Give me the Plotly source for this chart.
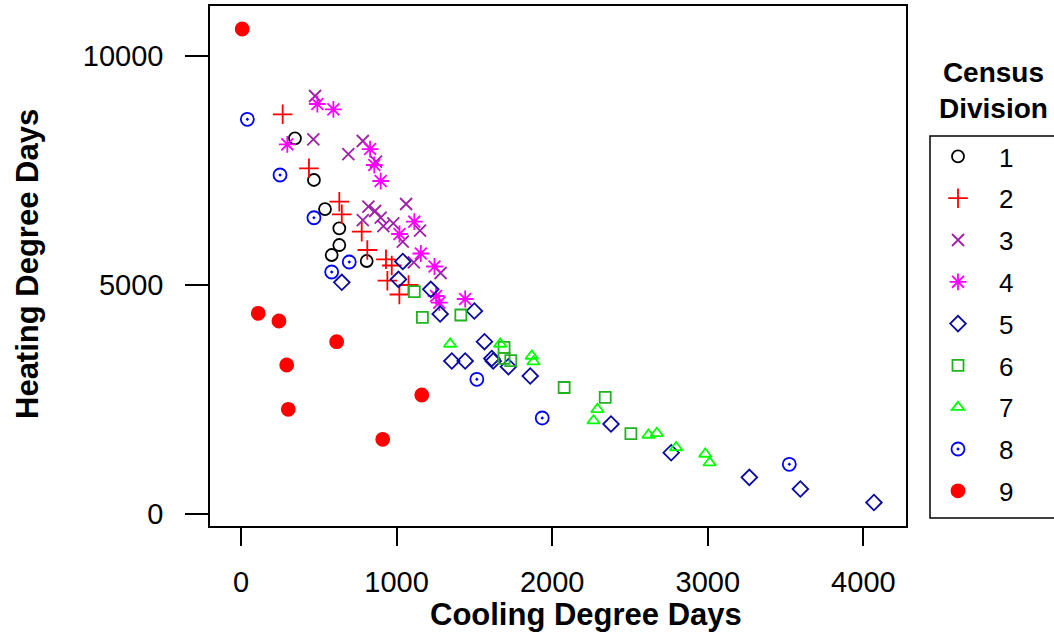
import plotly.graph_objects as go

# ---- data (Cooling Degree Days, Heating Degree Days) by Census Division ----
div1_cdd = [347, 469, 540, 632, 632, 583, 808]
div1_hdd = [8203, 7293, 6659, 6238, 5873, 5655, 5524]

div2_cdd = [268, 437, 632, 648, 776, 812, 932, 969, 941, 1018, 1077]
div2_hdd = [8727, 7548, 6819, 6544, 6164, 5764, 5561, 5426, 5094, 4793, 5000]

div3_cdd = [476, 465, 783, 690, 868, 819, 1061, 862, 783, 898, 915, 979, 1151, 1040, 1111, 1283]
div3_hdd = [9127, 8181, 8144, 7860, 7692, 6710, 6769, 6616, 6419, 6469, 6288, 6347, 6186, 5945, 5496, 5262]

div4_cdd = [491, 594, 298, 830, 857, 898, 1114, 1019, 1156, 1244, 1254, 1275, 1441]
div4_hdd = [8952, 8836, 8072, 7969, 7620, 7271, 6382, 6114, 5688, 5404, 4760, 4614, 4694]

div5_cdd = [648, 1040, 1012, 1220, 1280, 1500, 1565, 1355, 1441, 1612, 1621, 1719, 1859, 2378, 2765, 3267, 3595, 4068]
div5_hdd = [5059, 5513, 5124, 4906, 4367, 4432, 3762, 3341, 3341, 3395, 3341, 3216, 3013, 1965, 1338, 801, 546, 251]

div6_cdd = [1114, 1166, 1413, 1691, 1691, 1734, 2077, 2341, 2506]
div6_hdd = [4854, 4295, 4345, 3640, 3400, 3347, 2762, 2548, 1753]

div7_cdd = [1344, 1666, 1869, 1880, 2291, 2266, 2619, 2673, 2797, 2984, 3012]
div7_hdd = [3712, 3712, 3450, 3325, 2286, 2037, 1725, 1762, 1452, 1310, 1120]

div8_cdd = [41, 251, 469, 696, 583, 1516, 1936, 3524]
div8_hdd = [8618, 7402, 6469, 5502, 5284, 2941, 2096, 1085]

div9_cdd = [8, 111, 244, 294, 304, 615, 1162, 911]
div9_hdd = [10590, 4382, 4214, 3253, 2286, 3762, 2598, 1631]

division_names = ["1", "2", "3", "4", "5", "6", "7", "8", "9"]
x_ticks = [0, 1000, 2000, 3000, 4000]
y_ticks = [0, 5000, 10000]

series_x = [div1_cdd, div2_cdd, div3_cdd, div4_cdd, div5_cdd, div6_cdd, div7_cdd, div8_cdd, div9_cdd]
series_y = [div1_hdd, div2_hdd, div3_hdd, div4_hdd, div5_hdd, div6_hdd, div7_hdd, div8_hdd, div9_hdd]

# ---- styles ----
colors = ["#000000", "#ff0000", "#a020a8", "#ff00ff", "#0a0aa0", "#22b222", "#00ff00", "#0000ff", "#ff0000"]
symbols = ["circle-open", "cross-thin-open", "x-thin-open", "asterisk-open", "diamond-open",
           "square-open", "triangle-up-open", "circle-open-dot", "circle"]
sizes = [12, 14, 12, 14, 12, 11, 11, 13, 13]

FONT = "Liberation Sans, Arial, sans-serif"

fig = go.Figure()
for name, xs, ys, c, s, sz in zip(division_names, series_x, series_y, colors, symbols, sizes):
    fig.add_trace(go.Scatter(
        x=xs, y=ys, mode="markers", name=name, legendgroup=name,
        marker=dict(symbol=s, size=sz, color=c, line=dict(color=c, width=1.8)),
    ))

W, H = 1054, 635
L, R, T, B = 210, 148, 6, 109
pw, ph = W - L - R, H - T - B

def px_to_paper(px, py):
    return (px - L) / pw, (H - B - py) / ph

axis_common = dict(
    showgrid=False, zeroline=False, showline=True, mirror=True,
    linecolor="#000000", linewidth=1.5, ticks="outside", tickwidth=1.5,
    tickcolor="#000000", tickfont=dict(family=FONT, size=29, color="#000000"),
)

fig.update_xaxes(range=[-199, 4274], tickvals=x_ticks, ticktext=[str(v) for v in x_ticks],
                 ticklen=18, ticklabelstandoff=11, **axis_common)
fig.update_yaxes(range=[-262, 11092], tickvals=y_ticks, ticktext=[str(v) for v in y_ticks],
                 ticklen=23, ticklabelstandoff=16, **axis_common)

# axis titles
xt = px_to_paper(586, 614)
yt = px_to_paper(27, 264)
lt = px_to_paper(993, 91)
fig.add_annotation(text="Cooling Degree Days", xref="paper", yref="paper", x=xt[0], y=xt[1],
                   showarrow=False, xanchor="center", yanchor="middle",
                   font=dict(family=FONT, size=31, color="#000000", weight="bold"))
fig.add_annotation(text="Heating Degree Days", xref="paper", yref="paper", x=yt[0], y=yt[1],
                   showarrow=False, xanchor="center", yanchor="middle", textangle=-90,
                   font=dict(family=FONT, size=31, color="#000000", weight="bold"))
fig.add_annotation(text="Census<br>Division", xref="paper", yref="paper", x=lt[0], y=lt[1],
                   showarrow=False, xanchor="center", yanchor="middle", align="center",
                   font=dict(family=FONT, size=28, color="#000000", weight="bold"))

# legend box
b0 = px_to_paper(930, 518)
b1 = px_to_paper(1070, 136)
fig.add_shape(type="rect", xref="paper", yref="paper", x0=b0[0], y0=b0[1], x1=b1[0], y1=b1[1],
              line=dict(color="#000000", width=1.5), fillcolor="rgba(0,0,0,0)")

lg = px_to_paper(917, 133)
fig.update_layout(
    width=W, height=H,
    margin=dict(l=L, r=R, t=T, b=B, autoexpand=False),
    paper_bgcolor="#ffffff", plot_bgcolor="#ffffff",
    showlegend=True,
    legend=dict(x=lg[0], y=lg[1], xanchor="left", yanchor="top",
                font=dict(family=FONT, size=26, color="#000000"),
                bgcolor="rgba(0,0,0,0)", borderwidth=0, itemwidth=72,
                tracegroupgap=5, traceorder="grouped", itemsizing="trace"),
    font=dict(family=FONT, color="#000000"),
)

fig.write_html("out.html")
